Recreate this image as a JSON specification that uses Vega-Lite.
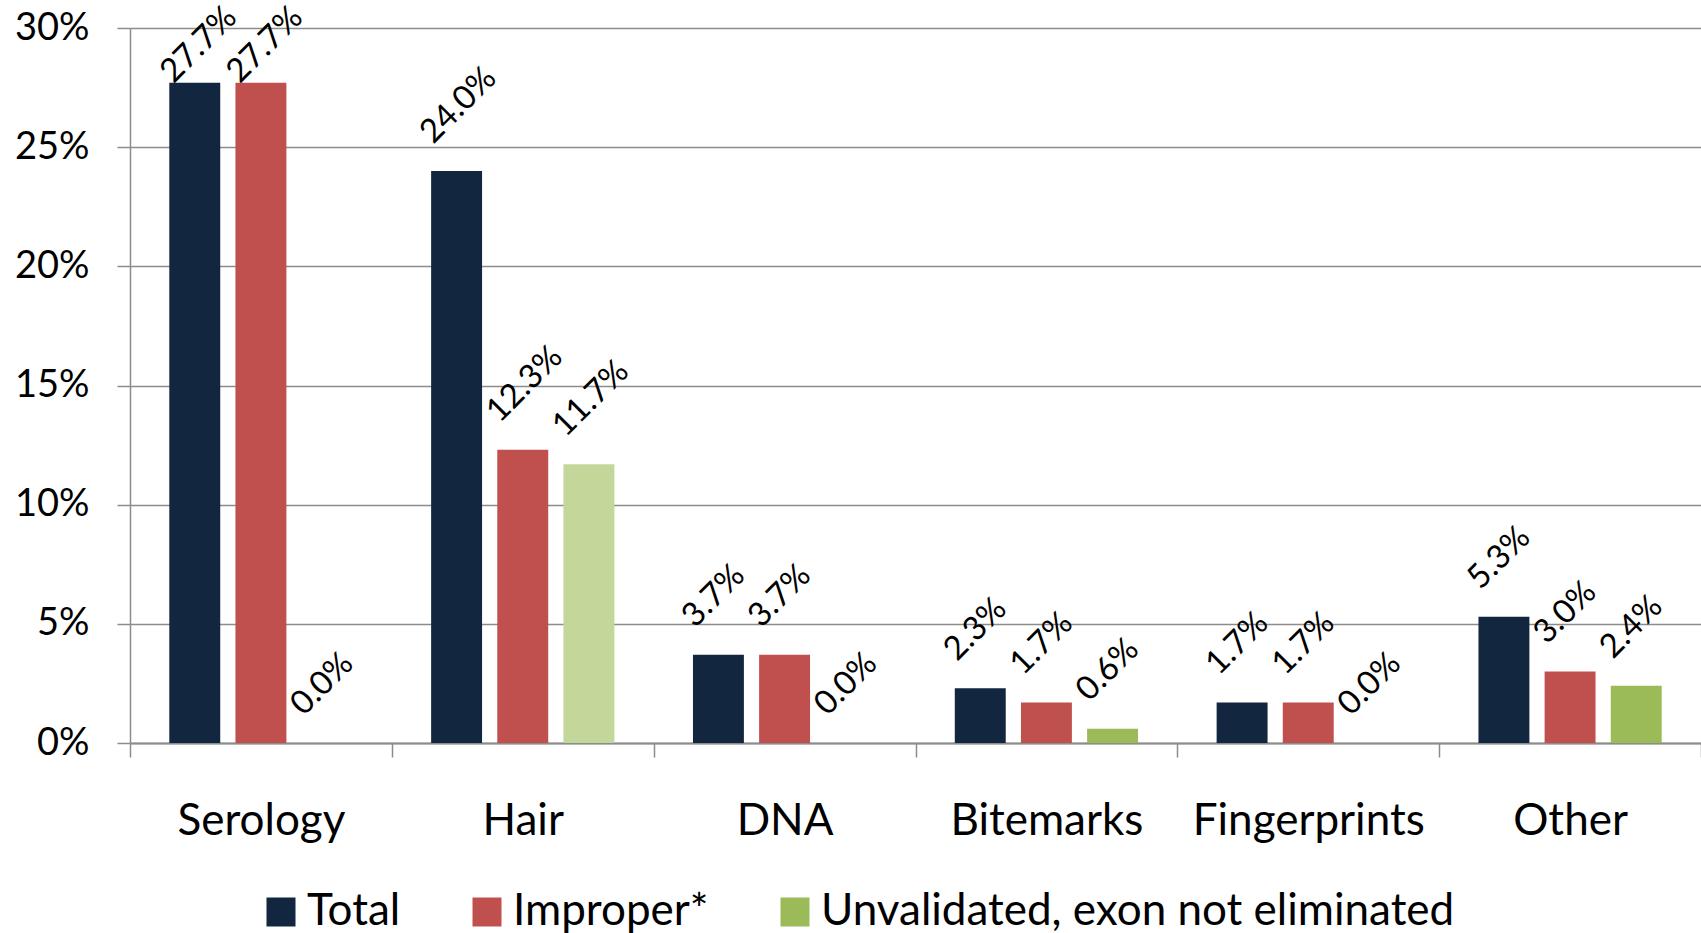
{
  "$schema": "https://vega.github.io/schema/vega-lite/v6.json",
  "width": 1571,
  "height": 715,
  "autosize": {"type": "none"},
  "padding": {"left": 130, "top": 28, "right": 0, "bottom": 190},
  "background": "white",
  "config": {
    "view": {"stroke": null},
    "font": "Lato",
    "axis": {"labelFont": "Lato", "labelColor": "#000000"},
    "legend": {"labelFont": "Lato"}
  },
  "data": {
    "values": [
      {"category": "Serology", "series": "Total", "value": 0.277},
      {"category": "Serology", "series": "Improper*", "value": 0.277},
      {"category": "Serology", "series": "Unvalidated, exon not eliminated", "value": 0.0},
      {"category": "Hair", "series": "Total", "value": 0.240},
      {"category": "Hair", "series": "Improper*", "value": 0.123},
      {"category": "Hair", "series": "Unvalidated, exon not eliminated", "value": 0.117},
      {"category": "DNA", "series": "Total", "value": 0.037},
      {"category": "DNA", "series": "Improper*", "value": 0.037},
      {"category": "DNA", "series": "Unvalidated, exon not eliminated", "value": 0.0},
      {"category": "Bitemarks", "series": "Total", "value": 0.023},
      {"category": "Bitemarks", "series": "Improper*", "value": 0.017},
      {"category": "Bitemarks", "series": "Unvalidated, exon not eliminated", "value": 0.006},
      {"category": "Fingerprints", "series": "Total", "value": 0.017},
      {"category": "Fingerprints", "series": "Improper*", "value": 0.017},
      {"category": "Fingerprints", "series": "Unvalidated, exon not eliminated", "value": 0.0},
      {"category": "Other", "series": "Total", "value": 0.053},
      {"category": "Other", "series": "Improper*", "value": 0.030},
      {"category": "Other", "series": "Unvalidated, exon not eliminated", "value": 0.024}
    ]
  },
  "encoding": {
    "x": {
      "field": "category",
      "type": "nominal",
      "sort": ["Serology", "Hair", "DNA", "Bitemarks", "Fingerprints", "Other"],
      "scale": {"paddingInner": 0, "paddingOuter": 0},
      "axis": {
        "title": null,
        "labelAngle": 0,
        "labelFontSize": 44,
        "labelLimit": 1000,
        "labelPadding": 42,
        "labelBaseline": "top",
        "tickBand": "extent",
        "tickSize": 14,
        "tickColor": "#8c8c8c",
        "tickWidth": 1.5,
        "domainColor": "#8c8c8c",
        "domainWidth": 2,
        "grid": false
      }
    },
    "xOffset": {
      "field": "series",
      "type": "nominal",
      "sort": ["Total", "Improper*", "Unvalidated, exon not eliminated"],
      "scale": {"paddingInner": 0.23, "paddingOuter": 0.594}
    },
    "y": {
      "field": "value",
      "type": "quantitative",
      "scale": {"domain": [0, 0.3], "nice": false},
      "axis": {
        "title": null,
        "format": "%",
        "values": [0, 0.05, 0.1, 0.15, 0.2, 0.25, 0.3],
        "labelFontSize": 38,
        "labelPadding": 28,
        "tickSize": 13,
        "tickColor": "#8c8c8c",
        "tickWidth": 1.5,
        "domainColor": "#8c8c8c",
        "domainWidth": 1.5,
        "gridColor": "#8c8c8c",
        "gridWidth": 1.5
      }
    }
  },
  "layer": [
    {
      "mark": {"type": "bar"},
      "encoding": {
        "color": {
          "condition": {
            "test": "datum.category === 'Hair' && datum.series === 'Unvalidated, exon not eliminated'",
            "value": "#C4D79B"
          },
          "field": "series",
          "type": "nominal",
          "sort": ["Total", "Improper*", "Unvalidated, exon not eliminated"],
          "scale": {
            "domain": ["Total", "Improper*", "Unvalidated, exon not eliminated"],
            "range": ["#12263F", "#C0504D", "#9BBB59"]
          },
          "legend": {
            "title": null,
            "orient": "none",
            "direction": "horizontal",
            "legendX": 129,
            "legendY": 862,
            "symbolType": "square",
            "symbolSize": 841,
            "symbolStrokeWidth": 0,
            "labelFontSize": 44,
            "labelOffset": 4,
            "columnPadding": 64,
            "labelLimit": 1000
          }
        }
      }
    },
    {
      "mark": {
        "type": "text",
        "angle": -45,
        "align": "left",
        "baseline": "alphabetic",
        "dx": {"expr": "datum.value > 0.26 ? -16 : 2"},
        "dy": {"expr": "datum.value > 0.26 ? -14 : -35"},
        "fontSize": 33,
        "color": "#000000"
      },
      "encoding": {
        "text": {"field": "value", "type": "quantitative", "format": ".1%"}
      }
    }
  ]
}
